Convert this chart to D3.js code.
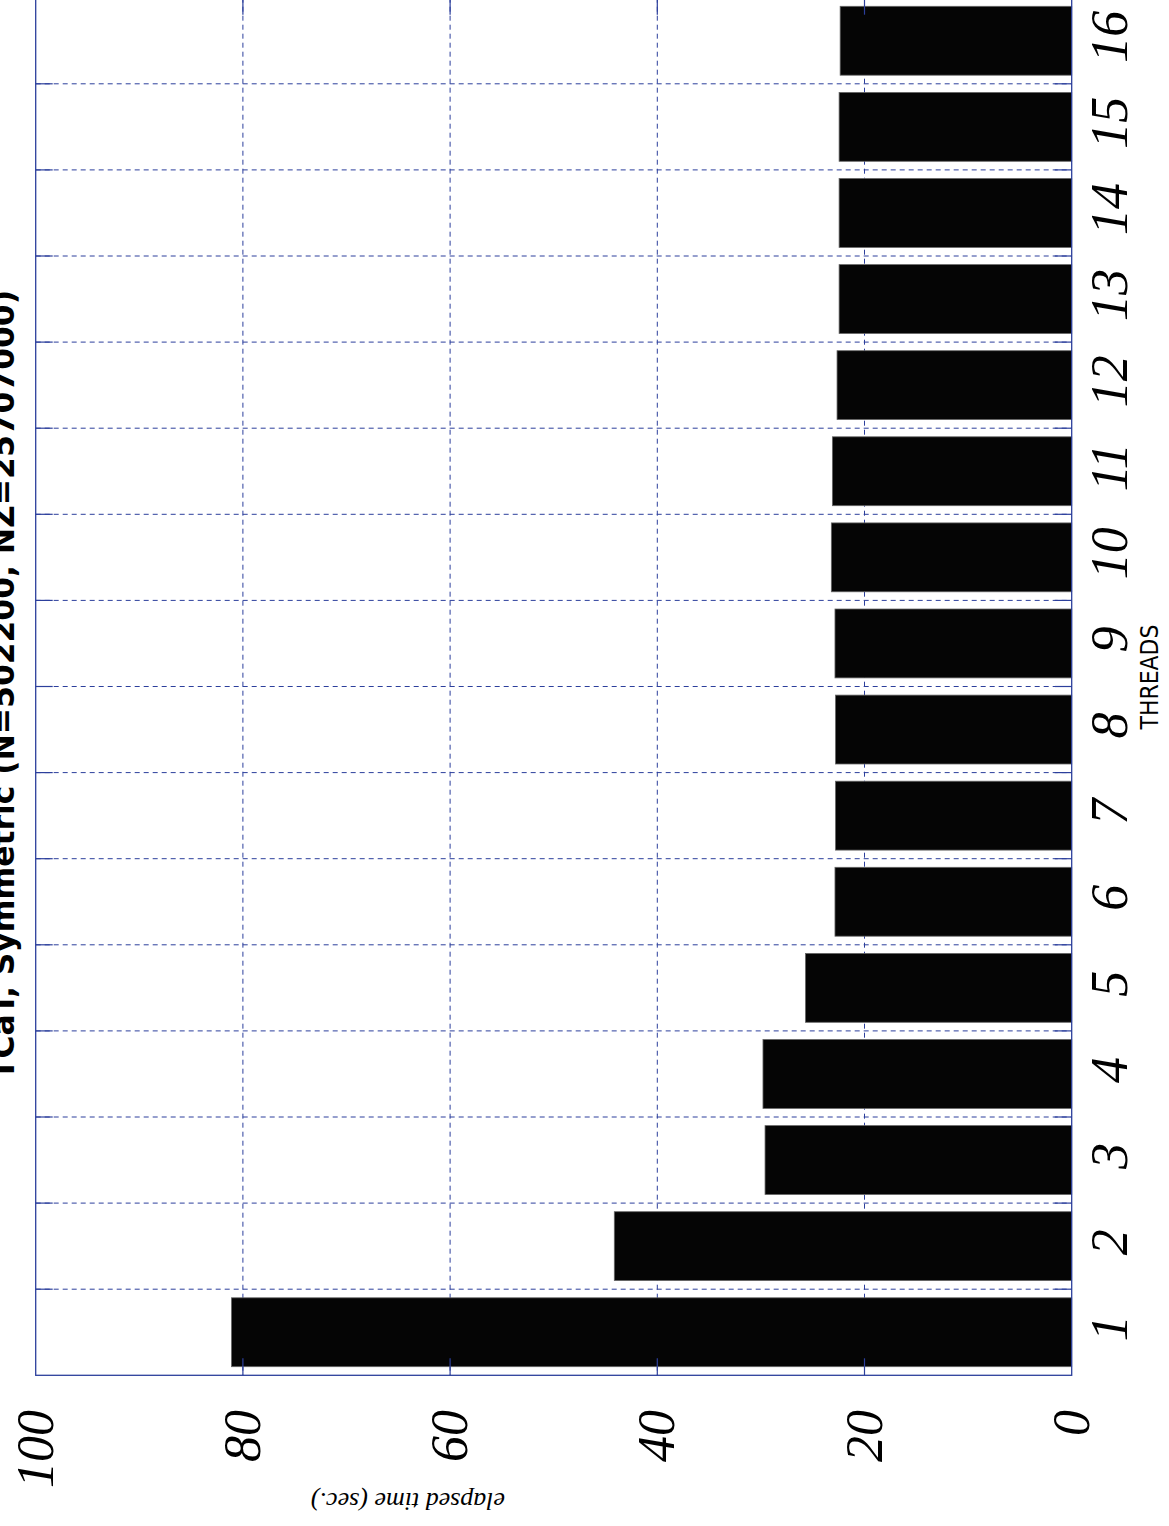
<!DOCTYPE html>
<html><head><meta charset="utf-8">
<script src="https://cdn.jsdelivr.net/npm/d3@7"></script>
<style>html,body{margin:0;padding:0;background:#fff;}svg{display:block;}</style>
</head><body>
<svg id="chart" width="1169" height="1526"></svg>
<script>
const threads = [1,2,3,4,5,6,7,8,9,10,11,12,13,14,15,16];
const elapsed = [81.1,44.15,29.6,29.8,25.7,22.85,22.8,22.8,22.85,23.2,23.1,22.65,22.45,22.45,22.45,22.35];
const valueTicks = [0,20,40,60,80,100];
const titleText = "TCaT, Symmetric (N=502200, NZ=25707000)";
const xLabel = "THREADS";
const yLabel = "elapsed time (sec.)";

(function(){
const svg = d3.select("#chart");
const blue = "#2c3f9c";
const serif = "'Liberation Serif','Times New Roman',Times,serif";

// value axis runs horizontally (100 at left, 0 at right)
const v = d3.scaleLinear().domain([0,100]).range([1071.7, 35.7]);
// category axis runs vertically (1 at bottom, 16 at top)
const c = d3.scaleLinear().domain([0.5,16.5]).range([1375.3, -2.3]);
const barW = 0.8;

const pL = v(100), pR = v(0), pT = c(16.5), pB = c(0.5);

// grid lines
const gridV = valueTicks.filter(t => t>0 && t<100);
svg.append("g").selectAll("line").data(gridV).join("line")
  .attr("x1", d=>v(d)).attr("x2", d=>v(d)).attr("y1", pT).attr("y2", pB)
  .attr("stroke", blue).attr("stroke-width", 1).attr("stroke-dasharray","5,4");
const bounds = threads.slice(0,-1).map(d=>d+0.5);
svg.append("g").selectAll("line").data(bounds).join("line")
  .attr("x1", pL).attr("x2", pR).attr("y1", d=>c(d)).attr("y2", d=>c(d))
  .attr("stroke", blue).attr("stroke-width", 1).attr("stroke-dasharray","5,4");

// bars
svg.append("g").selectAll("rect").data(threads).join("rect")
  .attr("x", (d,i)=>v(elapsed[i]))
  .attr("width", (d,i)=>v(0)-v(elapsed[i]))
  .attr("y", d=>c(d+barW/2))
  .attr("height", d=>c(d-barW/2)-c(d+barW/2))
  .attr("fill", "#050505").attr("stroke", "#666").attr("stroke-width", 0.8);

// frame
svg.append("rect").attr("x", pL).attr("y", pT).attr("width", pR-pL).attr("height", pB-pT)
  .attr("fill","none").attr("stroke", blue).attr("stroke-width", 1.3);

// tick marks
const tl = 17;
const tk = svg.append("g").attr("stroke", blue).attr("stroke-width", 1.2);
gridV.forEach(d=>{
  tk.append("line").attr("x1", v(d)).attr("x2", v(d)).attr("y1", pB).attr("y2", pB-tl);
  tk.append("line").attr("x1", v(d)).attr("x2", v(d)).attr("y1", pT).attr("y2", pT+tl);
});
bounds.forEach(d=>{
  tk.append("line").attr("x1", pL).attr("x2", pL+tl).attr("y1", c(d)).attr("y2", c(d));
  tk.append("line").attr("x1", pR).attr("x2", pR-tl).attr("y1", c(d)).attr("y2", c(d));
});

// value tick labels
svg.append("g").selectAll("text").data(valueTicks).join("text")
  .attr("transform", d=>`translate(${v(d)+17},1410) rotate(-90)`)
  .attr("text-anchor","end")
  .attr("font-family", serif)
  .attr("font-style","italic").attr("font-size", 52)
  .text(d=>d);

// category tick labels
svg.append("g").selectAll("text").data(threads).join("text")
  .attr("transform", d=>`translate(1127,${c(d)-4}) rotate(-90)`)
  .attr("text-anchor","middle")
  .attr("font-family", serif)
  .attr("font-style","italic").attr("font-size", 52)
  .text(d=>d);

// axis labels
svg.append("text").attr("transform","translate(1158,677) rotate(-90)")
  .attr("text-anchor","middle")
  .attr("font-family","'Liberation Sans Narrow','DejaVu Sans Condensed',sans-serif")
  .attr("font-size", 25).attr("textLength", 105).attr("lengthAdjust","spacingAndGlyphs")
  .text(xLabel);

svg.append("text").attr("transform","translate(408,1493) rotate(180)")
  .attr("text-anchor","middle")
  .attr("font-family", serif)
  .attr("font-style","italic").attr("font-size", 26)
  .text(yLabel);

// title (partially clipped at the left edge, as in the reference)
svg.append("text").attr("transform","translate(14,685) rotate(-90)")
  .attr("text-anchor","middle")
  .attr("font-family","'Liberation Sans Narrow','DejaVu Sans Condensed',sans-serif")
  .attr("font-weight","bold").attr("font-size", 32)
  .attr("textLength", 790).attr("lengthAdjust","spacingAndGlyphs")
  .text(titleText);
})();
</script>
</body></html>
